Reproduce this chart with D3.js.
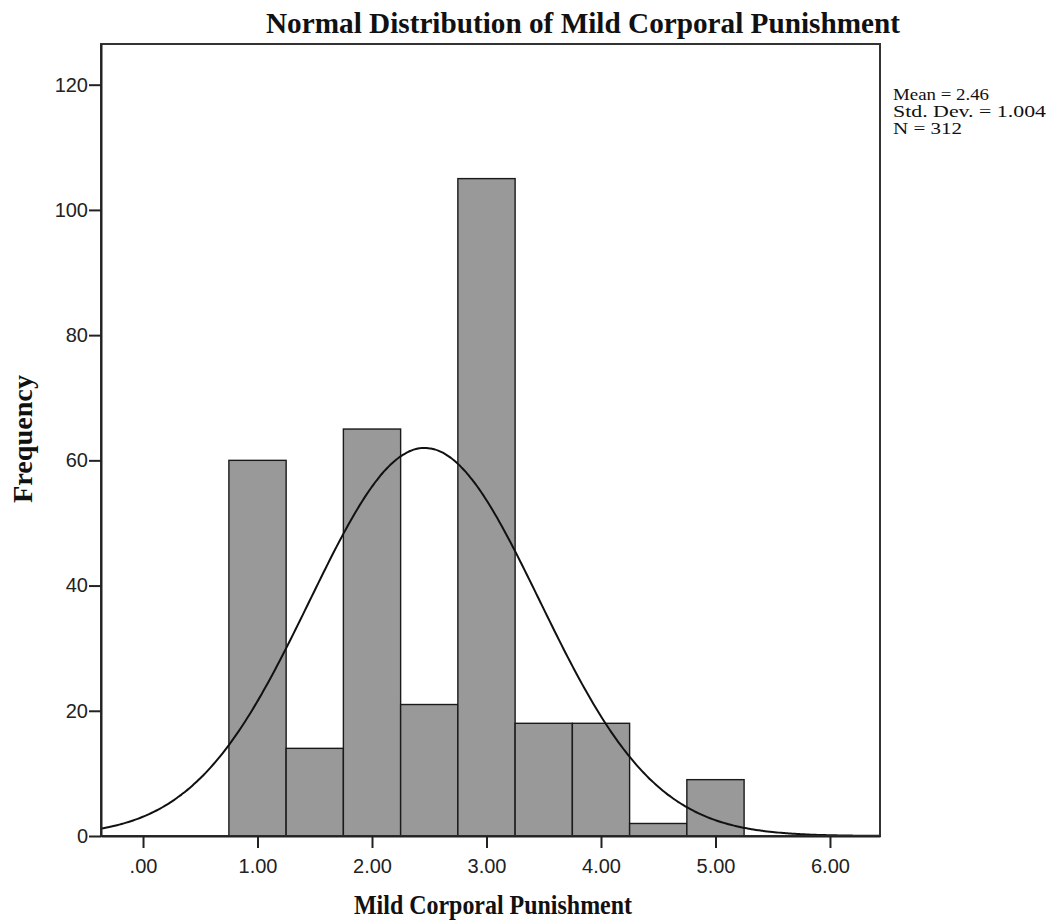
<!DOCTYPE html>
<html><head><meta charset="utf-8">
<script src="https://cdn.jsdelivr.net/npm/d3@7"></script>
<style>body{margin:0;background:#fff}</style>
</head><body>
<script>
// Data
const binStarts = [0.75, 1.25, 1.75, 2.25, 2.75, 3.25, 3.75, 4.25, 4.75];
const binWidth = 0.5;
const frequencies = [60, 14, 65, 21, 105, 18, 18, 2, 9];
const xTicks = [0, 1, 2, 3, 4, 5, 6];
const yTicks = [0, 20, 40, 60, 80, 100, 120];
const statsLines = ["Mean = 2.46", "Std. Dev. = 1.004", "N = 312"];
const mean = 2.46, sd = 1.004, n = 312;

const W = 1053, H = 924;
const pL = 101, pR = 880, pT = 44, pB = 836;
const serif = "'Liberation Serif', 'Times New Roman', serif";
const sans = "'Liberation Sans', Arial, sans-serif";

const svg = d3.select("body").append("svg").attr("width", W).attr("height", H);

const x = d3.scaleLinear().domain([-0.367, 6.437]).range([pL, pR]);
const y = d3.scaleLinear().domain([0, 126.5]).range([pB, pT]);

// clip
svg.append("clipPath").attr("id","clip").append("rect")
  .attr("x", pL).attr("y", pT).attr("width", pR-pL).attr("height", pB-pT);

// bars
svg.append("g").selectAll("rect").data(binStarts).join("rect")
  .attr("x", (d)=>x(d))
  .attr("width", (d)=>x(d+binWidth)-x(d))
  .attr("y", (d,i)=>y(frequencies[i]))
  .attr("height", (d,i)=>y(0)-y(frequencies[i]))
  .attr("fill", "#999999").attr("stroke", "#1a1a1a").attr("stroke-width", 1.4);

// normal curve fitted from the stated mean / sd / N
const pts = d3.range(-0.367, 6.44, 0.02).map(v => [v, n*binWidth*Math.exp(-0.5*((v-mean)/sd)**2)/(sd*Math.sqrt(2*Math.PI))]);
svg.append("path").datum(pts)
  .attr("clip-path","url(#clip)")
  .attr("d", d3.line().x(d=>x(d[0])).y(d=>y(d[1])).curve(d3.curveBasis))
  .attr("fill","none").attr("stroke","#111").attr("stroke-width",2);

// frame
svg.append("rect").attr("x", pL).attr("y", pT).attr("width", pR-pL).attr("height", pB-pT)
  .attr("fill","none").attr("stroke","#333").attr("stroke-width",2);

// axes
const xAxis = d3.axisBottom(x).tickValues(xTicks).tickSize(12).tickSizeOuter(0)
  .tickFormat(d => d===0 ? ".00" : d3.format(".2f")(d));
const gx = svg.append("g").attr("transform",`translate(0,${pB})`).call(xAxis);
gx.select(".domain").attr("stroke","#222").attr("stroke-width",2);
gx.selectAll(".tick line").attr("stroke","#222").attr("stroke-width",2);
gx.selectAll(".tick text").attr("font-family",sans).attr("font-size",20).attr("fill","#222")
  .attr("y",37).attr("dy",0);

const yAxis = d3.axisLeft(y).tickValues(yTicks).tickSize(12).tickSizeOuter(0);
const gy = svg.append("g").attr("transform",`translate(${pL},0)`).call(yAxis);
gy.select(".domain").attr("stroke","#222").attr("stroke-width",2);
gy.selectAll(".tick line").attr("stroke","#222").attr("stroke-width",2);
gy.selectAll(".tick text").attr("font-family",sans).attr("font-size",20).attr("fill","#222").attr("x",-13);

// title
svg.append("text").attr("x", 583).attr("y", 33).attr("text-anchor","middle")
  .attr("font-family",serif).attr("font-weight","bold")
  .attr("font-size",29).attr("textLength",634).attr("lengthAdjust","spacingAndGlyphs")
  .attr("fill","#111").text("Normal Distribution of Mild Corporal Punishment");

// axis labels
svg.append("text").attr("x", 493).attr("y", 914).attr("text-anchor","middle")
  .attr("font-family",serif).attr("font-weight","bold")
  .attr("font-size",28).attr("textLength",278).attr("lengthAdjust","spacingAndGlyphs")
  .attr("fill","#111").text("Mild Corporal Punishment");

svg.append("text").attr("transform","translate(32,439) rotate(-90)").attr("text-anchor","middle")
  .attr("font-family",serif).attr("font-weight","bold")
  .attr("font-size",28).attr("textLength",128).attr("lengthAdjust","spacingAndGlyphs")
  .attr("fill","#111").text("Frequency");

// stats
const statLens = [96, 153, 69];
svg.append("g").selectAll("text").data(statsLines).join("text")
  .attr("x", 893).attr("y", (d,i)=>100+i*17)
  .attr("font-family",serif).attr("font-size",16)
  .attr("textLength",(d,i)=>statLens[i]).attr("lengthAdjust","spacingAndGlyphs")
  .attr("fill","#111").text(d=>d);
</script>
</body></html>
